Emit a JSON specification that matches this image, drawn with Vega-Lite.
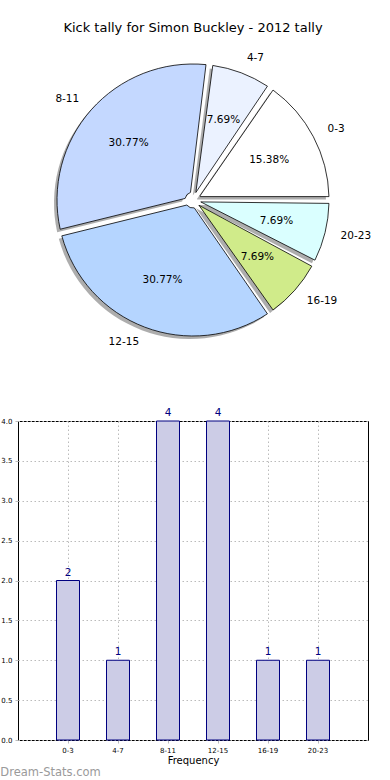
{
  "$schema": "https://vega.github.io/schema/vega-lite/v6.json",
  "padding": {"left": 0, "right": 0, "top": 22, "bottom": 0},
  "spacing": 46,
  "config": {
    "font": "DejaVu Sans",
    "title": {"font": "DejaVu Sans", "fontWeight": "normal", "color": "#000000"}
  },
  "title": {"text": "Dream-Stats.com", "orient": "bottom", "anchor": "start", "frame": "bounds", "fontSize": 11.5, "color": "#9a9a9a", "offset": 1},
  "datasets": {
    "kicks": [
      {"idx": 0, "cat": "0-3", "count": 2, "pct": "15.38%"},
      {"idx": 1, "cat": "4-7", "count": 1, "pct": "7.69%"},
      {"idx": 2, "cat": "8-11", "count": 4, "pct": "30.77%"},
      {"idx": 3, "cat": "12-15", "count": 4, "pct": "30.77%"},
      {"idx": 4, "cat": "16-19", "count": 1, "pct": "7.69%"},
      {"idx": 5, "cat": "20-23", "count": 1, "pct": "7.69%"}
    ]
  },
  "vconcat": [
    {
      "width": 350,
      "height": 322,
      "view": {"stroke": null},
      "title": {"text": "Kick tally for Simon Buckley - 2012 tally", "fontSize": 13, "offset": 4},
      "data": {"name": "kicks"},
      "encoding": {
        "theta": {"field": "count", "type": "quantitative", "stack": true, "scale": {"range": [1.5708, -4.7124]}},
        "order": {"field": "idx", "type": "quantitative"}
      },
      "layer": [
        {
          "mark": {"type": "arc", "outerRadius": 136, "innerRadius": 8, "padAngle": 0.05, "fill": "#777777", "opacity": 0.6, "xOffset": -3, "yOffset": 3}
        },
        {
          "mark": {"type": "arc", "outerRadius": 136, "innerRadius": 8, "padAngle": 0.05, "stroke": "#000000", "strokeWidth": 0.8},
          "encoding": {
            "color": {
              "field": "cat", "type": "nominal", "legend": null,
              "scale": {"domain": ["0-3", "4-7", "8-11", "12-15", "16-19", "20-23"],
                        "range": ["#FFFFFF", "#EBF2FF", "#C4D8FF", "#B5D5FF", "#D0EB8A", "#DAFFFF"]}
            }
          }
        },
        {
          "mark": {"type": "text", "radius": 86, "fontSize": 10.5, "color": "#000000"},
          "encoding": {"text": {"field": "pct"}}
        },
        {
          "mark": {"type": "text", "radius": 152, "fontSize": 10.5, "align": "left", "baseline": "middle", "color": "#000000"},
          "encoding": {"text": {"condition": {"test": "datum.cat !== '8-11' && datum.cat !== '12-15'", "field": "cat"}, "value": ""}}
        },
        {
          "mark": {"type": "text", "radius": 152, "fontSize": 10.5, "align": "right", "baseline": "middle", "color": "#000000"},
          "encoding": {"text": {"condition": {"test": "datum.cat === '8-11' || datum.cat === '12-15'", "field": "cat"}, "value": ""}}
        }
      ]
    },
    {
      "width": 350,
      "height": 319,
      "view": {"stroke": "#000000", "strokeWidth": 1},
      "data": {"name": "kicks"},
      "encoding": {
        "x": {
          "field": "cat", "type": "nominal",
          "sort": ["0-3", "4-7", "8-11", "12-15", "16-19", "20-23"],
          "scale": {"paddingInner": 0.54, "paddingOuter": 0.77},
          "axis": {
            "title": "Frequency", "titleFontSize": 10, "titleFontWeight": "normal", "titleColor": "#000000", "titlePadding": 2,
            "labelAngle": 0, "labelFontSize": 7, "labelColor": "#000000", "labelPadding": 3,
            "bandPosition": 0.5, "grid": true, "gridDash": [1.5, 2.5], "gridColor": "#bbbbbb",
            "tickSize": 3, "tickColor": "#bbbbbb", "domain": false
          }
        },
        "y": {
          "field": "count", "type": "quantitative",
          "scale": {"domain": [0, 4]},
          "axis": {
            "title": null, "values": [0, 0.5, 1, 1.5, 2, 2.5, 3, 3.5, 4], "format": ".1f",
            "labelFontSize": 7, "labelColor": "#000000", "labelPadding": 3,
            "grid": true, "gridDash": [1.5, 2.5], "gridColor": "#bbbbbb",
            "tickSize": 3, "tickColor": "#bbbbbb", "domain": false
          }
        }
      },
      "layer": [
        {"mark": {"type": "bar", "fill": "#CCCCE6", "stroke": "#000080", "strokeWidth": 1}},
        {
          "mark": {"type": "text", "color": "#000080", "fontSize": 10.5, "baseline": "bottom", "dy": -3},
          "encoding": {"text": {"field": "count", "type": "quantitative"}}
        }
      ]
    }
  ]
}
